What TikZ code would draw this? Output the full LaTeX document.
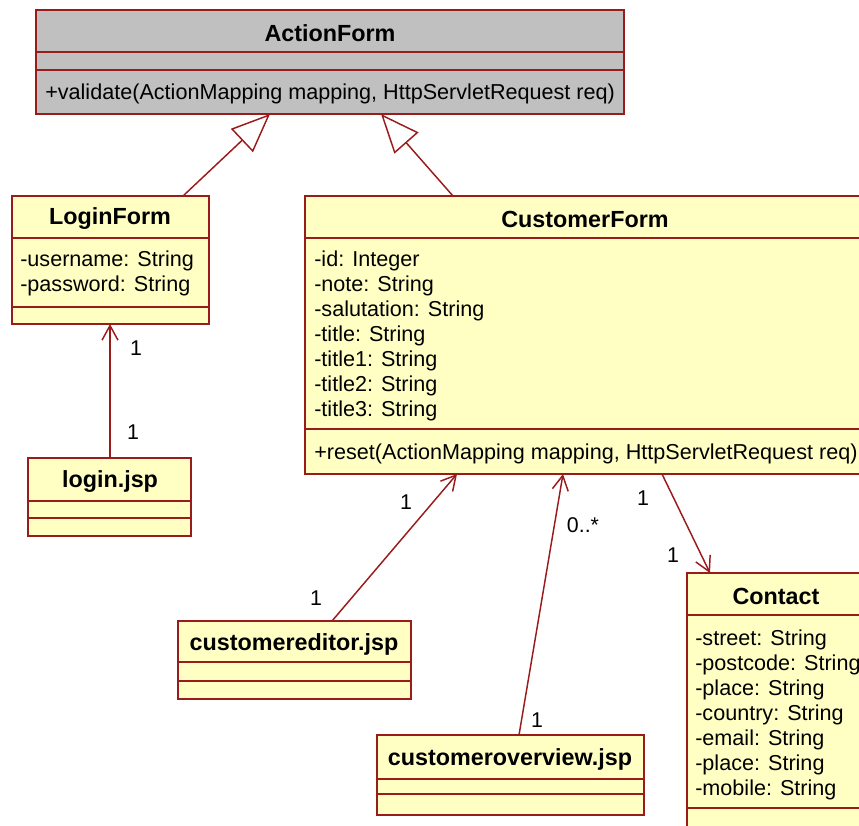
\documentclass[tikz,border=0pt]{standalone}
\usepackage{fontspec}
\setmainfont{Liberation Sans}
\usetikzlibrary{arrows.meta,calc,fit}
\definecolor{umlline}{RGB}{153,27,27}
\definecolor{umlfill}{RGB}{255,255,196}
\definecolor{umlgray}{RGB}{192,192,192}
\begin{document}
\begin{tikzpicture}[x=0.75pt,y=-0.75pt,
  box/.style={draw=umlline, line width=1.5pt, fill=umlfill, inner sep=0pt, outer sep=0pt},
  graybox/.style={box, fill=umlgray},
  title/.style={font=\fontsize{17.5}{20}\selectfont\bfseries, inner sep=0pt, yshift=-1.5pt},
  member/.style={font=\fontsize{16.2}{19}\selectfont, anchor=west, inner sep=0pt, yshift=-1.5pt},
  mult/.style={font=\fontsize{16}{19}\selectfont, inner sep=0pt},
  sep/.style={draw=umlline, line width=1.5pt},
  gen/.style={draw=umlline, line width=1.1pt, -{Triangle[open,length=29pt,width=24pt,fill=white]}},
  nav/.style={draw=umlline, line width=1.1pt, -{Straight Barb[length=11pt,width=12pt]}},
]
\useasboundingbox (0,0) rectangle (859,825);
\clip (0,0) rectangle (859,825);

% ActionForm
\node[graybox, fit={(36,10) (624,114)}] (af) {};
\draw[sep] ($(af.north west)+(0,42)$) -- ($(af.north east)+(0,42)$);
\draw[sep] ($(af.north west)+(0,60)$) -- ($(af.north east)+(0,60)$);
\node[title] (afT) at (330,31) {ActionForm};
\node[member] (afM) at (45,92) {+validate(ActionMapping mapping, HttpServletRequest req)};

% LoginForm
\node[box, fit={(12,196) (209,324)}] (lf) {};
\draw[sep] ($(lf.north west)+(0,42)$) -- ($(lf.north east)+(0,42)$);
\draw[sep] ($(lf.north west)+(0,111)$) -- ($(lf.north east)+(0,111)$);
\node[title] (lfT) at (110,217) {LoginForm};
\node[member] (lfA1) at (20,259) {-username: String};
\node[member] (lfA2) at (20,284) {-password: String};

% login.jsp
\node[box, fit={(28,458) (191,536)}] (lj) {};
\draw[sep] ($(lj.north west)+(0,43)$) -- ($(lj.north east)+(0,43)$);
\draw[sep] ($(lj.north west)+(0,60)$) -- ($(lj.north east)+(0,60)$);
\node[title] (ljT) at (110,480) {login.jsp};

% CustomerForm
\node[box, fit={(305,196) (865,474)}] (cf) {};
\draw[sep] ($(cf.north west)+(0,42)$) -- ($(cf.north east)+(0,42)$);
\draw[sep] ($(cf.north west)+(0,233)$) -- ($(cf.north east)+(0,233)$);
\node[title] (cfT) at (585,217) {CustomerForm};
\node[member] (cfA1) at (314,259) {-id: Integer};
\node[member] (cfA2) at (314,284) {-note: String};
\node[member] (cfA3) at (314,309) {-salutation: String};
\node[member] (cfA4) at (314,334) {-title: String};
\node[member] (cfA5) at (314,359) {-title1: String};
\node[member] (cfA6) at (314,384) {-title2: String};
\node[member] (cfA7) at (314,409) {-title3: String};
\node[member] (cfM) at (314,452) {+reset(ActionMapping mapping, HttpServletRequest req)};

% Contact
\node[box, fit={(687,573) (865,860)}] (ct) {};
\draw[sep] ($(ct.north west)+(0,42)$) -- ($(ct.north east)+(0,42)$);
\draw[sep] ($(ct.north west)+(0,235)$) -- ($(ct.north east)+(0,235)$);
\node[title] (ctT) at (776,594) {Contact};
\node[member] (ctA1) at (695,638) {-street: String};
\node[member] (ctA2) at (695,663) {-postcode: String};
\node[member] (ctA3) at (695,688) {-place: String};
\node[member] (ctA4) at (695,713) {-country: String};
\node[member] (ctA5) at (695,738) {-email: String};
\node[member] (ctA6) at (695,763) {-place: String};
\node[member] (ctA7) at (695,788) {-mobile: String};

% customereditor.jsp
\node[box, fit={(178,621) (411,699)}] (ce) {};
\draw[sep] ($(ce.north west)+(0,41)$) -- ($(ce.north east)+(0,41)$);
\draw[sep] ($(ce.north west)+(0,60)$) -- ($(ce.north east)+(0,60)$);
\node[title] (ceT) at (294,642) {customereditor.jsp};

% customeroverview.jsp
\node[box, fit={(377,735) (644,815)}] (co) {};
\draw[sep] ($(co.north west)+(0,44)$) -- ($(co.north east)+(0,44)$);
\draw[sep] ($(co.north west)+(0,59)$) -- ($(co.north east)+(0,59)$);
\node[title] (coT) at (510,757) {customeroverview.jsp};

% generalizations
\draw[gen] ($(lf.north west)+(171,0)$) -- ($(af.south west)+(234,0)$);
\draw[gen] ($(cf.north west)+(148,0)$) -- ($(af.south west)+(345,0)$);

% navigable associations
\draw[nav] ($(lj.north west)+(82,0)$) -- ($(lf.south west)+(98,0)$);
\draw[nav] ($(ce.north west)+(154,0)$) -- ($(cf.south west)+(152,0)$);
\draw[nav] ($(co.north west)+(142,0)$) -- ($(cf.south west)+(258,0)$);
\draw[nav] ($(cf.south west)+(357,0)$) -- ($(ct.north west)+(23,0)$);

% multiplicities
\node[mult] (m1) at (136,348) {1};
\node[mult] (m2) at (133,432) {1};
\node[mult] (m3) at (406,502) {1};
\node[mult] (m4) at (316,598) {1};
\node[mult] (m5) at (583,525) {0..*};
\node[mult] (m6) at (537,720) {1};
\node[mult] (m7) at (643,498) {1};
\node[mult] (m8) at (673,555) {1};
\end{tikzpicture}
\end{document}
